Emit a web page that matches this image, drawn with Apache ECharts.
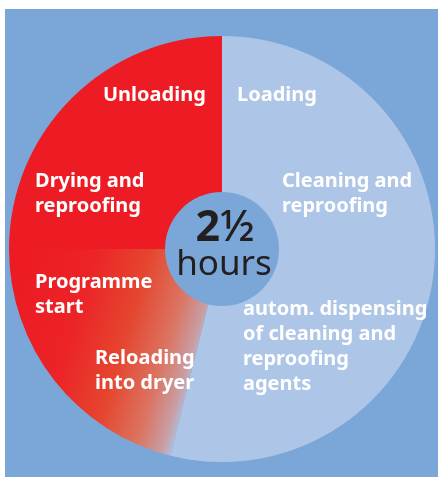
<!DOCTYPE html>
<html>
<head>
<meta charset="utf-8">
<script src="https://cdn.jsdelivr.net/npm/echarts@6/dist/echarts.min.js"></script>
<style>
  html, body { margin: 0; padding: 0; background: #fff; }
  #chart { width: 438px; height: 477px; }
</style>
</head>
<body>
<div id="chart"></div>
<script>
var chartDom = document.getElementById('chart');
var myChart = echarts.init(chartDom);

// share of the 2½ h cycle, in degrees of the dial
const segments = ['Washing', 'Transfer', 'Drying'];
const segmentValues = [194, 76, 90];

const labelTexts = [
  'Loading',
  'Cleaning and\nreproofing',
  'autom. dispensing\nof cleaning and\nreproofing\nagents',
  'Reloading\ninto dryer',
  'Programme\nstart',
  'Drying and\nreproofing',
  'Unloading'
];
const centerBig = '2';
const centerFrac = '½';
const centerSmall = 'hours';

const bgBlue = '#7ba7d8';
const lightBlue = '#adc5e7';
const red = '#ed1c24';

const fade = {
  type: 'linear',
  global: true,
  x: 25, y: 286, x2: 208, y2: 341,
  colorStops: [
    { offset: 0, color: red },
    { offset: 0.3, color: '#ec2327' },
    { offset: 0.58, color: '#e5462f' },
    { offset: 0.8, color: '#db7462' },
    { offset: 0.93, color: '#c99ca2' },
    { offset: 1, color: lightBlue }
  ]
};
const segColors = [lightBlue, fade, red];

// label anchor points (left, middle of the block)
const labelPos = [
  [237, 95], [282, 194], [243, 347], [95, 371], [35, 295], [35, 194], [103, 95]
];

var graphics = [
  { type: 'rect', z: -10, shape: { x: 5, y: 9, width: 433, height: 468 }, style: { fill: bgBlue } }
];
labelTexts.forEach(function (t, i) {
  graphics.push({
    type: 'text', z: 10,
    x: labelPos[i][0], y: labelPos[i][1],
    style: {
      text: t, fill: '#fff', font: 'bold 20px "Noto Sans"',
      lineHeight: 25, verticalAlign: 'middle', align: 'left'
    }
  });
});
graphics.push({
  type: 'text', z: 10, x: 225, y: 229,
  style: {
    text: '{a|' + centerBig + '}{b|' + centerFrac + '}',
    align: 'center', verticalAlign: 'middle',
    rich: {
      a: { fill: '#231f20', font: 'bold 43px "Noto Sans"' },
      b: { fill: '#231f20', font: '500 43px "Noto Sans"' }
    }
  }
});
graphics.push({
  type: 'text', z: 10, x: 224, y: 265,
  style: { text: centerSmall, fill: '#231f20', font: '35px "Noto Sans"', align: 'center', verticalAlign: 'middle' }
});

var option = {
  backgroundColor: '#fff',
  animation: false,
  graphic: graphics,
  series: [
    {
      type: 'pie',
      center: [222, 249],
      radius: [0, 213],
      startAngle: 90,
      clockwise: true,
      silent: true,
      label: { show: false },
      labelLine: { show: false },
      emphasis: { disabled: true },
      data: segments.map(function (n, i) {
        return { name: n, value: segmentValues[i], itemStyle: { color: segColors[i] } };
      })
    },
    {
      type: 'pie',
      center: [222, 249],
      radius: [0, 57],
      silent: true,
      label: { show: false },
      labelLine: { show: false },
      emphasis: { disabled: true },
      data: [{ name: 'hours', value: 1, itemStyle: { color: bgBlue } }]
    }
  ]
};
option && myChart.setOption(option);
</script>
</body>
</html>
